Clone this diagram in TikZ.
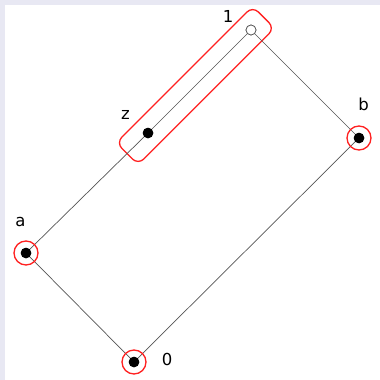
\documentclass[tikz,border=0pt]{standalone}
\usepackage{fontspec}
\setmainfont{DejaVu Sans}
\usetikzlibrary{positioning}
\definecolor{framebg}{HTML}{E8E8F3}
\definecolor{edgegray}{HTML}{555555}
\definecolor{markred}{HTML}{FF2020}

\begin{document}
\begin{tikzpicture}[x=1pt, y=-1pt,
  elem/.style={circle, fill=black, inner sep=0pt, minimum size=10.5pt},
  topelem/.style={circle, draw=edgegray, fill=white, inner sep=0pt, minimum size=10pt, line width=0.7pt},
  ring/.style={circle, draw=markred, line width=1.3pt, inner sep=0pt, minimum size=24pt},
  tag/.style={anchor=base, inner sep=0pt, font=\fontsize{16.5}{20}\selectfont},
  link/.style={draw=edgegray, line width=0.7pt},
  pick/.style={draw=markred, line width=1.3pt, rounded corners=8pt, minimum width=193pt, minimum height=31pt, rotate=45, inner sep=0pt}
]
% frame
\fill[framebg] (0,0) rectangle (380,380);
\fill[white] (5,5) rectangle (380,380);
\useasboundingbox (0,0) rectangle (380,380);

% lattice elements
\node[elem] (n0) at (134,362) {};
\node[elem] (na) at (26,253) {};
\node[elem] (nb) at (359,138) {};
\node[elem] (nz) at (148,133) {};
\node[topelem] (n1) at (251,30) {};

% selection
\node[pick] (sel) at (195.4,85.5) {};

% order
\draw[link] (n0.center) -- (na.center);
\draw[link] (na.center) -- (nz.center);
\draw[link] (nz.center) -- (n1);
\draw[link] (n1) -- (nb.center);
\draw[link] (nb.center) -- (n0.center);

\node[ring] (r0) at (n0) {};
\node[ring] (ra) at (na) {};
\node[ring] (rb) at (nb) {};
\node[elem] at (n0) {};
\node[elem] at (na) {};
\node[elem] at (nb) {};
\node[elem] at (nz) {};
\node[topelem] at (n1) {};

% labels
\node[tag] (t1) at (228,23) {1};
\node[tag] (tz) at (125.5,119) {z};
\node[tag] (ta) at (20.5,226) {a};
\node[tag] (tb) at (363.5,110) {b};
\node[tag] (t0) at (167,365) {0};
\end{tikzpicture}
\end{document}
